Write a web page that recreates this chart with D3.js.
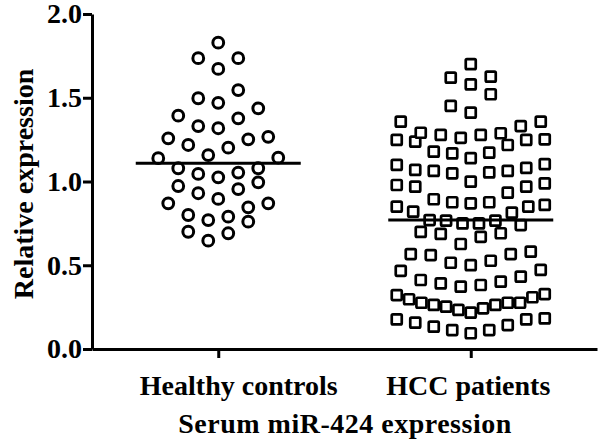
<!DOCTYPE html>
<html><head><meta charset="utf-8">
<script src="https://cdn.jsdelivr.net/npm/d3@7"></script>
<style>body{margin:0;background:#fff}svg text{font-family:"Liberation Serif","Times New Roman",serif;font-weight:bold;}</style>
</head><body>
<svg id="c" width="600" height="444"></svg>
<script>
const categories = ["Healthy controls", "HCC patients"];
const healthyValues = [1.829, 1.736, 1.736, 1.672, 1.546, 1.497, 1.470, 1.437, 1.393, 1.377,
  1.331, 1.318, 1.267, 1.258, 1.252, 1.218, 1.202, 1.158, 1.142, 1.139,
  1.079, 1.079, 1.053, 1.045, 1.025, 0.995, 0.973, 0.955, 0.930, 0.896,
  0.870, 0.870, 0.846, 0.800, 0.790, 0.770, 0.760, 0.700, 0.691, 0.647];
const hccValues = [1.701, 1.620, 1.626, 1.580, 1.521, 1.451, 1.411, 1.357, 1.357,
  1.331, 1.288, 1.278, 1.248, 1.248, 1.218, 1.238, 1.252, 1.261, 1.278, 1.291,
  1.178, 1.172, 1.104, 1.081, 1.063, 1.063, 1.069, 1.099, 1.139, 1.168, 1.054, 1.049,
  0.989, 0.969, 0.933, 0.969, 0.979, 0.999,
  0.876, 0.870, 0.850, 0.820, 0.814, 0.850, 0.860, 0.876, 0.894,
  0.766, 0.750, 0.740, 0.699, 0.670, 0.687, 0.691, 0.750, 0.766, 0.770,
  0.627, 0.567, 0.561, 0.515, 0.581, 0.501, 0.527, 0.567, 0.472,
  0.467, 0.412, 0.392, 0.372, 0.382, 0.402, 0.432,
  0.322, 0.297, 0.276, 0.263, 0.253, 0.233, 0.217, 0.243, 0.263, 0.276, 0.276, 0.309, 0.328,
  0.183, 0.177, 0.143, 0.113, 0.094, 0.113, 0.133, 0.157, 0.177];
const yTicks = [0.0, 0.5, 1.0, 1.5, 2.0];
const yTitle = "Relative expression";
const xTitle = "Serum miR-424 expression";

const svg = d3.select("#c");
const x = d3.scalePoint().domain(categories).range([92, 597]).padding(0.5);
const y = d3.scaleLinear().domain([0, 2]).range([349, 14]);

// Prism-like row layout: group close values into rows, lowest in the centre
function rowLayout(values, rowPx, maxGap, maxWidth) {
  const hVal = y.invert(y(0) - rowPx);
  const sorted = values.slice().sort((a, b) => a - b);
  const rows = []; let cur = null;
  sorted.forEach(v => {
    if (!cur || v - cur.start >= hVal) { cur = {start: v, pts: []}; rows.push(cur); }
    cur.pts.push(v);
  });
  const out = [];
  rows.forEach(r => {
    const n = r.pts.length;
    const gap = n > 1 ? Math.min(maxGap, maxWidth / (n - 1)) : 0;
    r.pts.forEach((v, k) => {
      let slot;
      if (n % 2 === 1) { const m = Math.ceil(k / 2); slot = k === 0 ? 0 : (k % 2 === 1 ? -m : m); }
      else { const m = Math.floor(k / 2) + 0.5; slot = k % 2 === 0 ? -m : m; }
      out.push({v, dx: slot * gap});
    });
  });
  return out;
}

const hPts = rowLayout(healthyValues, 20, 20, 148);
const cPts = rowLayout(hccValues, 20, 20, 148);

// circles
svg.append("g").selectAll("circle").data(hPts).join("circle")
  .attr("cx", d => x(categories[0]) + d.dx)
  .attr("cy", d => y(d.v))
  .attr("r", 5.4)
  .attr("fill", "#fff").attr("stroke", "#000").attr("stroke-width", 3);

// squares
const s = 10;
svg.append("g").selectAll("rect").data(cPts).join("rect")
  .attr("x", d => x(categories[1]) + d.dx - s / 2)
  .attr("y", d => y(d.v) - s / 2)
  .attr("width", s).attr("height", s).attr("rx", 1.2)
  .attr("fill", "#fff").attr("stroke", "#000").attr("stroke-width", 2.7);

// median lines
const meds = [d3.median(healthyValues), d3.median(hccValues)];
svg.append("g").selectAll("line").data(meds).join("line")
  .attr("x1", (d, i) => x(categories[i]) - 82.5)
  .attr("x2", (d, i) => x(categories[i]) + 82.5)
  .attr("y1", d => y(d)).attr("y2", d => y(d))
  .attr("stroke", "#000").attr("stroke-width", 3);

// axes
const yAxis = svg.append("g").attr("transform", "translate(92,0)")
  .call(d3.axisLeft(y).tickValues(yTicks).tickFormat(d3.format(".1f")).tickSize(9).tickSizeOuter(0).tickPadding(1));
const xAxis = svg.append("g").attr("transform", "translate(0,349)")
  .call(d3.axisBottom(x).tickSize(9).tickSizeOuter(0).tickPadding(17));
[yAxis, xAxis].forEach(a => {
  a.select(".domain").attr("stroke", "#000").attr("stroke-width", 3);
  a.selectAll(".tick line").attr("stroke", "#000").attr("stroke-width", 3);
  a.selectAll(".tick text").attr("font-size", 28).attr("fill", "#000")
    .style("font-family", '"Liberation Serif","Times New Roman",serif').style("font-weight", "bold");
});
xAxis.selectAll(".tick text").attr("dx", (d, i) => i === 0 ? 20 : -3);

svg.append("text").attr("transform", "translate(33,184) rotate(-90)")
  .attr("text-anchor", "middle").attr("font-size", 28).text(yTitle);
svg.append("text").attr("x", 345).attr("y", 433)
  .attr("text-anchor", "middle").attr("font-size", 28).attr("letter-spacing", 0.5).text(xTitle);
</script>
</body></html>
